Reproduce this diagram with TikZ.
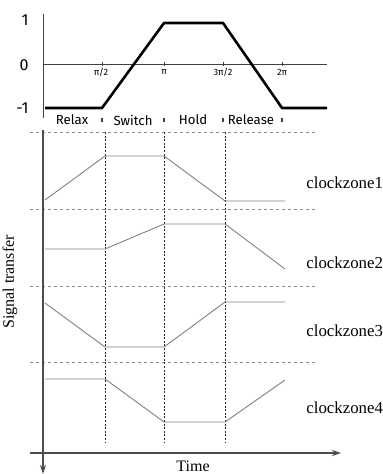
\documentclass[tikz,border=0pt]{standalone}
\usepackage{fontspec}
\setmainfont{Liberation Serif}
\newfontfamily\plotfont{Fira Sans}
\usetikzlibrary{arrows.meta}

\begin{document}
\begin{tikzpicture}[
			x=0.5pt, y=-0.5pt,
			axis/.style={draw=black!75, line width=0.5pt},
			wave/.style={draw=black, line width=1.3pt, line join=round},
			zone/.style={draw=black!50, line width=0.45pt},
			gridline/.style={draw=black!45, dash pattern=on 1.6pt off 1.4pt, line width=0.4pt},
			clkline/.style={draw=black!85, dash pattern=on 1pt off 0.8pt, line width=0.5pt},
			value/.style={font=\plotfont\fontsize{8}{9}\selectfont, anchor=east, inner sep=0pt},
			ticklabel/.style={font=\plotfont\fontsize{4.6}{5}\selectfont, inner sep=0pt},
			phase/.style={font=\plotfont\fontsize{6.6}{7}\selectfont, inner sep=0pt},
			zonelabel/.style={font=\fontsize{8.4}{9}\selectfont, anchor=west, inner sep=0pt},
			>={Stealth[length=4.5pt, width=3pt]},
			]
			
			\useasboundingbox (0,0) rectangle (382,474);
			
			% Taktsignal oben
			\draw[axis] (43,14) -- (43,118);
			\draw[axis] (43,65) -- (327,65);
			\node[value] (one) at (29,20) {1};
			\node[value] (zero) at (29,65) {0};
			\node[value] (minusone) at (29,108) {-1};
			\draw[axis] (102,62) -- (102,66) (164,62) -- (164,66) (223,62) -- (223,66) (282,62) -- (282,66);
			\node[ticklabel] (halfpi) at (101,72) {π/2};
			\node[ticklabel] (pi) at (164,72) {π};
			\node[ticklabel] (threehalfpi) at (223,72) {3π/2};
			\node[ticklabel] (twopi) at (282,72) {2π};
			\draw[wave] (45,108) -- (102,108) -- (164,23) -- (223,23) -- (282,108) -- (327,108);
			
			% Phasen
			\node[phase] (relax) at (72,120) {Relax};
			\node[phase] (switch) at (133,120) {Switch};
			\node[phase] (hold) at (193,120) {Hold};
			\node[phase] (release) at (251,120) {Release};
			\draw[axis, line width=0.7pt] (102,118) -- (102,122) (164,118) -- (164,122) (223,118) -- (223,122) (282,118) -- (282,122);
			
			% Zonen-Raster
			\draw[gridline] (30,132) -- (317,132);
			\draw[gridline] (30,209) -- (317,209);
			\draw[gridline] (30,286) -- (317,286);
			\draw[gridline] (30,362) -- (317,362);
			\draw[clkline] (105,132) -- (105,442);
			\draw[clkline] (164,132) -- (164,442);
			\draw[clkline] (225,132) -- (225,442);
			
			% Achsen
			\draw[->, draw=black!70, line width=0.9pt] (43,130) -- (43,474);
			\draw[->, draw=black!70, line width=0.7pt] (30,453) -- (341,453);
			\node[rotate=90, font=\fontsize{8}{9}\selectfont] (signal) at (10,282) {Signal transfer};
			\node[font=\fontsize{8}{9}\selectfont] (time) at (193,466) {Time};
			
			% Clockzones
			\draw[zone] (45,200) -- (105,156) -- (164,156) -- (225,201) -- (285,201);
			\draw[zone] (45,249) -- (105,249) -- (164,224) -- (225,224) -- (285,269);
			\draw[zone] (45,303) -- (105,347) -- (164,347) -- (225,302) -- (285,302);
			\draw[zone] (45,379) -- (105,379) -- (164,422) -- (225,422) -- (285,380);
			\node[zonelabel] (zone1) at (306,183) {clockzone1};
			\node[zonelabel] (zone2) at (306,263) {clockzone2};
			\node[zonelabel] (zone3) at (306,331) {clockzone3};
			\node[zonelabel] (zone4) at (306,408) {clockzone4};
			
		\end{tikzpicture}
\end{document}
